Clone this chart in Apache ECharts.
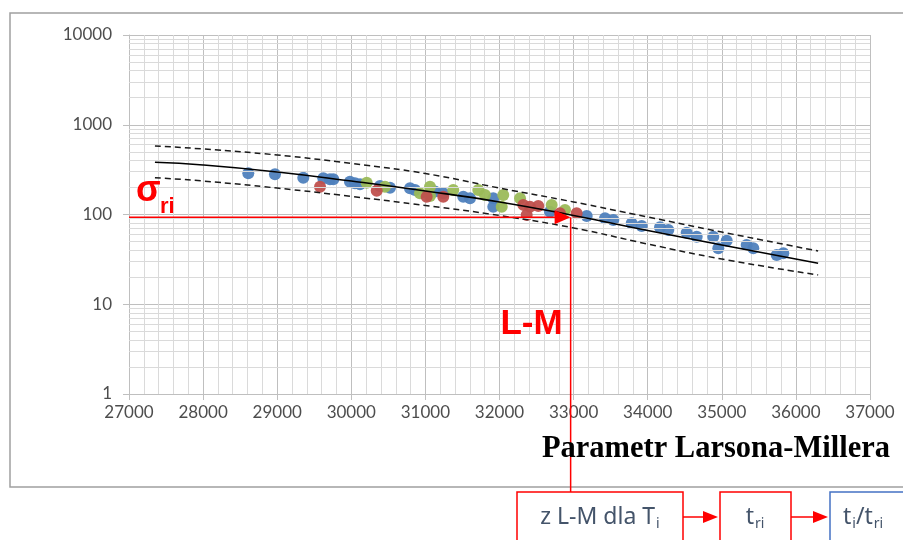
<!DOCTYPE html>
<html>
<head>
<meta charset="utf-8">
<script src="https://cdn.jsdelivr.net/npm/echarts@6/dist/echarts.min.js"></script>
<style>
html, body { margin: 0; padding: 0; background: #fff; }
#chart { width: 903px; height: 540px; }
</style>
</head>
<body>
<div id="chart"></div>
<script>
// master curve and scatter band (L-M parameter vs stress, MPa)
var fitLM    = [27350, 28000, 29000, 30000, 31000, 32000, 33000, 34000, 35000, 36300];
var fitMid   = [382, 356, 298, 236, 183, 138, 97.5, 66.4, 45.7, 28.6];
var fitUpper = [580, 537, 460, 370, 286, 197, 138, 93.7, 63.8, 39.2];
var fitLower = [257, 236, 197, 159, 126, 97.5, 70.8, 46.9, 31.9, 21.2];

var blueLM = [28610, 28970, 29352, 29622, 29712, 29757, 29982, 30050, 30117, 30387, 30522, 30792,
              30860, 31129, 31241, 31511, 31602, 31916, 31916, 32681, 33177, 33424, 33536, 33784,
              33919, 34166, 34278, 34526, 34661, 34885, 35066, 34953, 35336, 35425, 35741, 35830];
var blueStress = [288, 281, 257, 253, 247, 247, 232, 223, 217, 208, 199, 196,
                  188, 180, 172, 158, 152, 152, 122, 107, 96, 90.7, 86.9, 79.8,
                  74.5, 72, 67.1, 62.7, 56.6, 56.6, 51.1, 42, 45.7, 42, 35.4, 37];

var greenLM = [30208, 30455, 30927, 31062, 31062, 31376, 31714, 31804, 32051, 32030, 32277, 32704, 32884];
var greenStress = [226, 204, 172, 204, 161, 188, 188, 165, 165, 122, 152, 128, 112];

var redLM = [29578, 30343, 31017, 31241, 32321, 32411, 32523, 32367, 32816, 33041];
var redStress = [204, 184, 158, 158, 128, 122, 124, 98.6, 103, 103];

// reading: sigma_ri -> L-M
var sigmaRi = 93;
var lmRi = 32960;

var xTicks = [27000, 37000, 1000];
var yTicks = [1, 10000];

function pairs(xs, ys) {
    return xs.map(function (x, i) { return [x, ys[i]]; });
}

// log paper minor lines 2..9 in every decade
var logMinor = [];
for (var d = yTicks[0]; d < yTicks[1]; d *= 10) {
    for (var k = 2; k <= 9; k++) logMinor.push(d * k);
}

var chart = echarts.init(document.getElementById('chart'));
var labelFont = { fontFamily: 'Lato', fontSize: 17, color: '#4d4d4d' };

var option = {
    animation: false,
    grid: { left: 129, right: 33, top: 35, bottom: 146 },
    xAxis: {
        type: 'value',
        min: xTicks[0],
        max: xTicks[1],
        interval: xTicks[2],
        axisLine: { onZero: false, lineStyle: { color: '#bfbfbf' } },
        axisTick: { show: true, length: 6, lineStyle: { color: '#bfbfbf' } },
        axisLabel: Object.assign({ margin: 10, formatter: function (v) { return String(v); } }, labelFont),
        splitLine: { show: true, lineStyle: { color: '#bfbfbf', width: 1 } },
        minorTick: { show: false, splitNumber: 5 },
        minorSplitLine: { show: true, lineStyle: { color: '#dadada', width: 1 } }
    },
    yAxis: {
        type: 'log',
        logBase: 10,
        min: yTicks[0],
        max: yTicks[1],
        axisLine: { show: true, lineStyle: { color: '#bfbfbf' } },
        axisTick: { show: true, length: 6, lineStyle: { color: '#bfbfbf' } },
        axisLabel: Object.assign({ margin: 17, formatter: function (v) { return String(v); } }, labelFont),
        splitLine: { show: true, lineStyle: { color: '#bfbfbf', width: 1 } }
    },
    series: [
        {
            name: 'minor',
            type: 'line',
            data: [],
            silent: true,
            z: 1,
            markLine: {
                silent: true,
                symbol: 'none',
                label: { show: false },
                lineStyle: { color: '#dadada', width: 1, type: 'solid' },
                emphasis: { disabled: true },
                data: logMinor.map(function (v) { return { yAxis: v }; })
            }
        },
        {
            name: 'blue',
            type: 'scatter',
            symbolSize: 12,
            itemStyle: { color: '#4f81bd', opacity: 0.95 },
            data: pairs(blueLM, blueStress),
            z: 3
        },
        {
            name: 'green',
            type: 'scatter',
            symbolSize: 12,
            itemStyle: { color: '#9bbb59', opacity: 0.95 },
            data: pairs(greenLM, greenStress),
            z: 3
        },
        {
            name: 'red',
            type: 'scatter',
            symbolSize: 12,
            itemStyle: { color: '#c0504d', opacity: 0.95 },
            data: pairs(redLM, redStress),
            z: 3
        },
        {
            name: 'fit',
            type: 'line',
            smooth: true,
            showSymbol: false,
            lineStyle: { color: '#000', width: 1.6 },
            data: pairs(fitLM, fitMid),
            z: 5
        },
        {
            name: 'upper',
            type: 'line',
            smooth: true,
            showSymbol: false,
            lineStyle: { color: '#1a1a1a', width: 1.5, type: [6, 4] },
            data: pairs(fitLM, fitUpper),
            z: 5
        },
        {
            name: 'lower',
            type: 'line',
            smooth: true,
            showSymbol: false,
            lineStyle: { color: '#1a1a1a', width: 1.5, type: [6, 4] },
            data: pairs(fitLM, fitLower),
            z: 5
        }
    ]
};
chart.setOption(option);

var pA = chart.convertToPixel({ gridIndex: 0 }, [xTicks[0], sigmaRi]);
var pB = chart.convertToPixel({ gridIndex: 0 }, [lmRi, sigmaRi]);
var red = '#ff0000';
var boxText = '#44546a';
var richBox = {
    m: { fontSize: 23, fontFamily: 'Noto Sans', fill: boxText, lineHeight: 26, verticalAlign: 'top' },
    s: { fontSize: 14, fontFamily: 'Noto Sans', fill: boxText, lineHeight: 14, verticalAlign: 'top', padding: [11, 0, 0, 1] }
};

function boxLabel(x, y, text, align) {
    return {
        type: 'text', x: x, y: y, z: 20,
        style: { text: text, rich: richBox, align: align, verticalAlign: 'middle',
                 textAlign: align, textVerticalAlign: 'middle' }
    };
}

function arrow(x1, x2, y) {
    return [
        { type: 'line', z: 20, shape: { x1: x1, y1: y, x2: x2 - 14, y2: y }, style: { stroke: red, lineWidth: 1.5 } },
        { type: 'polygon', z: 20, shape: { points: [[x2 - 15, y - 6], [x2, y], [x2 - 15, y + 6]] }, style: { fill: red } }
    ];
}

var graphics = [
    { type: 'rect', z: 0, silent: true, shape: { x: 10, y: 13, width: 1000, height: 474 },
      style: { fill: 'none', stroke: '#a0a0a0', lineWidth: 1.5 } },
    // sigma_ri reading line with arrow
    { type: 'line', z: 20, shape: { x1: pA[0], y1: pA[1], x2: pB[0] - 14, y2: pB[1] }, style: { stroke: red, lineWidth: 1.5 } },
    { type: 'polygon', z: 20, shape: { points: [[pB[0] - 16, pB[1] - 7], [pB[0], pB[1]], [pB[0] - 16, pB[1] + 7]] }, style: { fill: red } },
    { type: 'line', z: 20, shape: { x1: pB[0], y1: pB[1], x2: pB[0], y2: 492 }, style: { stroke: red, lineWidth: 1.5 } },
    { type: 'text', z: 20, x: pA[0] + 7, y: pA[1] - 26,
      style: { text: 'σ', font: 'bold 36px "Liberation Sans"', fill: red, align: 'left', verticalAlign: 'middle',
               textAlign: 'left', textVerticalAlign: 'middle' } },
    { type: 'text', z: 20, x: pA[0] + 31, y: pA[1] - 10,
      style: { text: 'ri', font: 'bold 22px "Liberation Sans"', fill: red, align: 'left', verticalAlign: 'middle',
               textAlign: 'left', textVerticalAlign: 'middle' } },
    { type: 'text', z: 20, x: pB[0] - 8, y: 324,
      style: { text: 'L-M', font: 'bold 35px "Liberation Sans"', fill: red, align: 'right', verticalAlign: 'middle',
               textAlign: 'right', textVerticalAlign: 'middle' } },
    // axis title
    { type: 'text', z: 20, x: 890, y: 449,
      style: { text: 'Parametr Larsona-Millera', font: 'bold 30.5px "Liberation Serif"', fill: '#000',
               align: 'right', verticalAlign: 'middle', textAlign: 'right', textVerticalAlign: 'middle' } },
    // flow boxes
    { type: 'rect', z: 20, shape: { x: 517, y: 492, width: 166, height: 60 }, style: { fill: '#fff', stroke: red, lineWidth: 1.5 } },
    { type: 'rect', z: 20, shape: { x: 720, y: 492, width: 71, height: 60 }, style: { fill: '#fff', stroke: red, lineWidth: 1.5 } },
    { type: 'rect', z: 20, shape: { x: 830, y: 492, width: 90, height: 60 }, style: { fill: '#fff', stroke: '#4472c4', lineWidth: 1.5 } },
    boxLabel(600, 519, '{m|z L-M dla T}{s|i}', 'center'),
    boxLabel(755, 519, '{m|t}{s|ri}', 'center'),
    boxLabel(843, 519, '{m|t}{s|i}{m|/t}{s|ri}', 'left')
].concat(arrow(683, 718, 517), arrow(791, 828, 517));

chart.setOption({ graphic: graphics });
</script>
</body>
</html>
